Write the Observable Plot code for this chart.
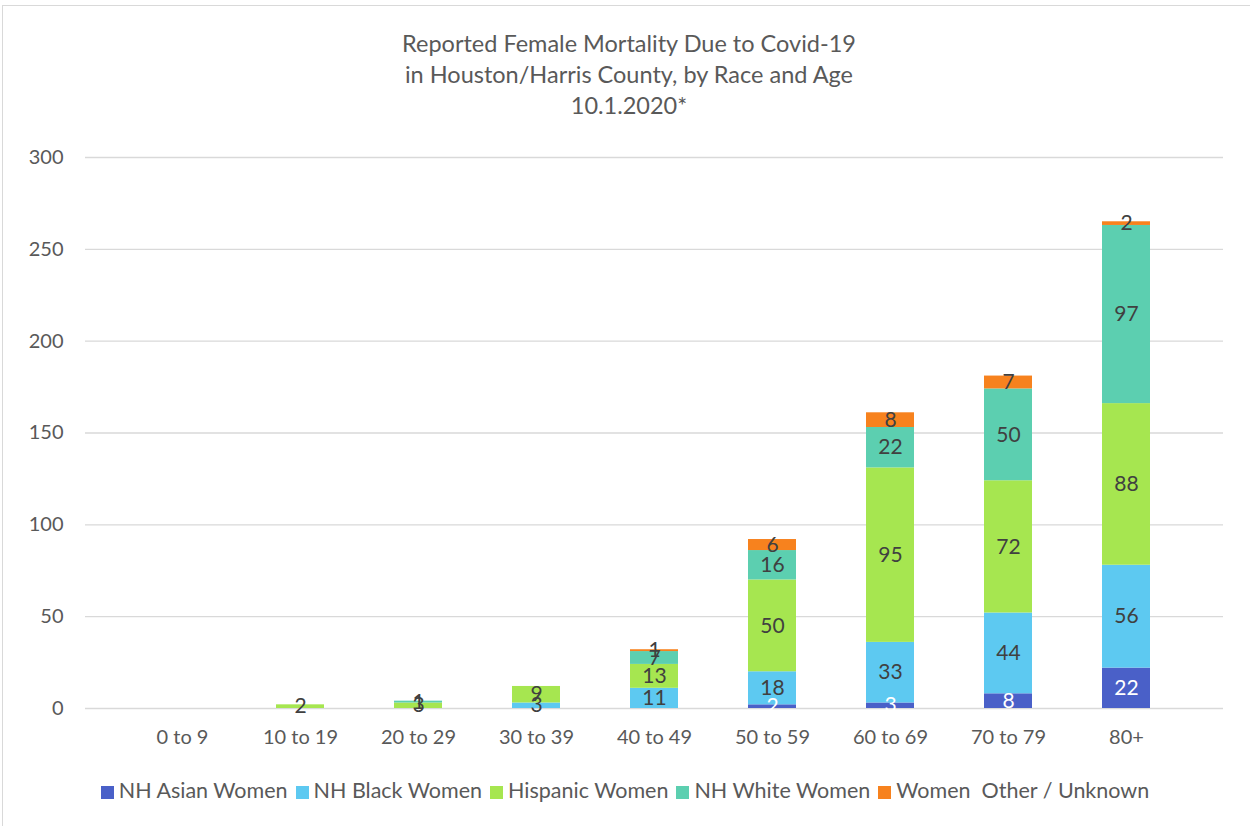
<!DOCTYPE html>
<html>
<head>
<meta charset="utf-8">
<script src="https://cdn.jsdelivr.net/npm/d3@7"></script>
<script src="https://cdn.jsdelivr.net/npm/@observablehq/plot@0.6"></script>
<style>
  html, body { margin: 0; padding: 0; background: #fff; }
  body { width: 1250px; height: 826px; position: relative; overflow: hidden; font-family: Lato, "Open Sans", sans-serif; }
  #frame { position: absolute; left: 2px; top: 5px; width: 1260px; height: 840px; border: 1px solid #d9d9d9; box-sizing: border-box; }
  #title { position: absolute; left: 0; top: 28px; width: 1258px; text-align: center; color: #595959; font-size: 23.5px; line-height: 31px; }
  #chart { position: absolute; left: 0; top: 140px; }
  #legend { position: absolute; left: 0; top: 777px; width: 1250px; text-align: center; font-size: 21.5px; color: #595959; white-space: nowrap; }
  #legend span.item { display: inline-block; margin: 0 4px; }
  #legend span.sw { display: inline-block; width: 13px; height: 13px; margin-right: 5px; vertical-align: -1px; }
</style>
</head>
<body>
<div id="frame"></div>
<div id="title">Reported Female Mortality Due to Covid-19<br>in Houston/Harris County, by Race and Age<br>10.1.2020*</div>
<div id="chart"></div>
<div id="legend"></div>
<script>
const ages = ["0 to 9", "10 to 19", "20 to 29", "30 to 39", "40 to 49", "50 to 59", "60 to 69", "70 to 79", "80+"];
const series = ["NH Asian Women", "NH Black Women", "Hispanic Women", "NH White Women", "Women  Other / Unknown"];
const colors = ["#4a60c8", "#5dc9f1", "#a6e650", "#5ccfb0", "#f7821e"];
const asian    = [0, 0, 0, 0, 0, 2, 3, 8, 22];
const black    = [0, 0, 0, 3, 11, 18, 33, 44, 56];
const hispanic = [0, 2, 3, 9, 13, 50, 95, 72, 88];
const white    = [0, 0, 1, 0, 7, 16, 22, 50, 97];
const other    = [0, 0, 0, 0, 1, 6, 8, 7, 2];
const yTicks = [0, 50, 100, 150, 200, 250, 300];

const seriesValues = [asian, black, hispanic, white, other];
const data = [];
ages.forEach((age, i) => {
  series.forEach((s, j) => {
    const v = seriesValues[j][i];
    if (v > 0) data.push({age, series: s, value: v});
  });
});

const plot = Plot.plot({
  width: 1250,
  height: 636,
  marginTop: 17,
  marginLeft: 85,
  marginRight: 27,
  marginBottom: 68,
  style: {fontFamily: "Lato, 'Open Sans', sans-serif", fontSize: "20px", color: "#595959", background: "transparent"},
  x: {domain: ages, padding: 0.59, label: null, tickSize: 0, tickPadding: 21},
  y: {domain: [0, 300], ticks: yTicks, label: null, tickSize: 0, tickPadding: 22},
  color: {domain: series, range: colors},
  marks: [
    Plot.gridY(yTicks, {stroke: "#d9d9d9", strokeOpacity: 1, strokeWidth: 1.3}),
    Plot.barY(data, Plot.stackY({x: "age", y: "value", fill: "series", order: series})),
    Plot.text(data, Plot.stackY({x: "age", y: "value", z: "series", order: series, text: d => String(d.value),
      fill: d => d.series === series[0] ? "#ffffff" : "#404040", fontSize: 21}))
  ]
});
document.getElementById("chart").appendChild(plot);

const legend = document.getElementById("legend");
series.forEach((s, i) => {
  const item = document.createElement("span");
  item.className = "item";
  const sw = document.createElement("span");
  sw.className = "sw";
  sw.style.background = colors[i];
  item.appendChild(sw);
  item.appendChild(document.createTextNode(s.replace(/  /g, "\u00a0 ")));
  legend.appendChild(item);
});
</script>
</body>
</html>
